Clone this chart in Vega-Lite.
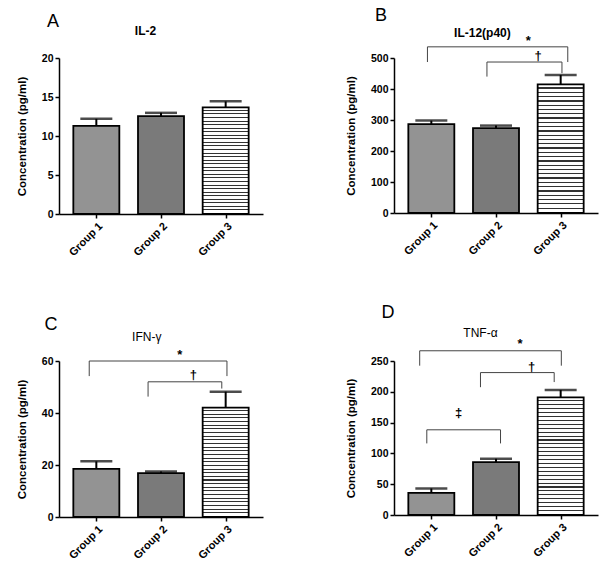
{
  "$schema": "https://vega.github.io/schema/vega-lite/v6.json",
  "background": "white",
  "padding": {"left": 16, "top": 7, "right": 4, "bottom": 4},
  "config": {
    "view": {"stroke": null},
    "axis": {"domainColor": "black", "domainWidth": 1.5, "tickColor": "black", "tickWidth": 1.5, "tickSize": 4, "labelPadding": 2, "labelFont": "Liberation Sans", "labelFontWeight": "bold", "labelFontSize": 10.5, "labelColor": "black", "labelOverlap": false, "labelSeparation": 0, "titleFont": "Liberation Sans", "titleFontWeight": "bold", "titleFontSize": 11.5, "titleColor": "black", "grid": false},
    "axisY": {"labelOverlap": false},
    "axisX": {"labelFontSize": 11, "labelAngle": -45},
    "text": {"font": "Liberation Sans", "color": "black", "fill": "black"},
    "bar": {"stroke": "black", "strokeWidth": 1.8, "width": 46, "orient": "vertical"}
  },
  "datasets": {
    "bars": [
      {"panel": "A", "group": "Group 1", "group_no": 1, "value": 11.3, "upper": 12.2},
      {"panel": "A", "group": "Group 2", "group_no": 2, "value": 12.55, "upper": 12.97},
      {"panel": "A", "group": "Group 3", "group_no": 3, "value": 13.68, "upper": 14.44},
      {"panel": "B", "group": "Group 1", "group_no": 1, "value": 287, "upper": 298},
      {"panel": "B", "group": "Group 2", "group_no": 2, "value": 274, "upper": 282},
      {"panel": "B", "group": "Group 3", "group_no": 3, "value": 415, "upper": 445},
      {"panel": "C", "group": "Group 1", "group_no": 1, "value": 18.5, "upper": 21.4},
      {"panel": "C", "group": "Group 2", "group_no": 2, "value": 16.9, "upper": 17.5},
      {"panel": "C", "group": "Group 3", "group_no": 3, "value": 42.1, "upper": 48.2},
      {"panel": "D", "group": "Group 1", "group_no": 1, "value": 35.9, "upper": 43.1},
      {"panel": "D", "group": "Group 2", "group_no": 2, "value": 85.7, "upper": 91.3},
      {"panel": "D", "group": "Group 3", "group_no": 3, "value": 190.9, "upper": 203}
    ],
    "brackets": [
      {"panel": "B", "id": "star", "ord": 1, "x": 0.94, "y": 487},
      {"panel": "B", "id": "star", "ord": 2, "x": 0.94, "y": 536},
      {"panel": "B", "id": "star", "ord": 3, "x": 3.11, "y": 536},
      {"panel": "B", "id": "star", "ord": 4, "x": 3.11, "y": 487},
      {"panel": "B", "id": "dag", "ord": 1, "x": 1.86, "y": 440},
      {"panel": "B", "id": "dag", "ord": 2, "x": 1.86, "y": 487},
      {"panel": "B", "id": "dag", "ord": 3, "x": 3.02, "y": 487},
      {"panel": "B", "id": "dag", "ord": 4, "x": 3.02, "y": 451},
      {"panel": "C", "id": "star", "ord": 1, "x": 0.89, "y": 54.2},
      {"panel": "C", "id": "star", "ord": 2, "x": 0.89, "y": 60},
      {"panel": "C", "id": "star", "ord": 3, "x": 3.02, "y": 60},
      {"panel": "C", "id": "star", "ord": 4, "x": 3.02, "y": 54.2},
      {"panel": "C", "id": "dag", "ord": 1, "x": 1.8, "y": 46.3},
      {"panel": "C", "id": "dag", "ord": 2, "x": 1.8, "y": 52},
      {"panel": "C", "id": "dag", "ord": 3, "x": 2.94, "y": 52},
      {"panel": "C", "id": "dag", "ord": 4, "x": 2.94, "y": 49.4},
      {"panel": "D", "id": "star", "ord": 1, "x": 0.82, "y": 242.4},
      {"panel": "D", "id": "star", "ord": 2, "x": 0.82, "y": 266.6},
      {"panel": "D", "id": "star", "ord": 3, "x": 3.01, "y": 266.6},
      {"panel": "D", "id": "star", "ord": 4, "x": 3.01, "y": 242.4},
      {"panel": "D", "id": "dag", "ord": 1, "x": 1.76, "y": 207.5},
      {"panel": "D", "id": "dag", "ord": 2, "x": 1.76, "y": 231.2},
      {"panel": "D", "id": "dag", "ord": 3, "x": 2.9, "y": 231.2},
      {"panel": "D", "id": "dag", "ord": 4, "x": 2.9, "y": 215.8},
      {"panel": "D", "id": "ddag", "ord": 1, "x": 0.93, "y": 116.2},
      {"panel": "D", "id": "ddag", "ord": 2, "x": 0.93, "y": 138.3},
      {"panel": "D", "id": "ddag", "ord": 3, "x": 2.07, "y": 138.3},
      {"panel": "D", "id": "ddag", "ord": 4, "x": 2.07, "y": 116.2}
    ],
    "labels": [
      {"panel": "A", "kind": "letter", "x": 0.33, "y": 24.6, "text": "A"},
      {"panel": "A", "kind": "title", "x": 1.76, "y": 23.4, "text": "IL-2"},
      {"panel": "B", "kind": "letter", "x": 0.22, "y": 634, "text": "B"},
      {"panel": "B", "kind": "title", "x": 1.79, "y": 580, "text": "IL-12(p40)"},
      {"panel": "B", "kind": "sig", "x": 2.5, "y": 556, "text": "*"},
      {"panel": "B", "kind": "sig", "x": 2.65, "y": 508, "text": "†"},
      {"panel": "C", "kind": "letter", "x": 0.3, "y": 73.7, "text": "C"},
      {"panel": "C", "kind": "title", "x": 1.78, "y": 69.1, "text": "IFN-γ"},
      {"panel": "C", "kind": "sig", "x": 2.29, "y": 62.3, "text": "*"},
      {"panel": "C", "kind": "sig", "x": 2.5, "y": 54.5, "text": "†"},
      {"panel": "D", "kind": "letter", "x": 0.33, "y": 327.9, "text": "D"},
      {"panel": "D", "kind": "title", "x": 1.76, "y": 296, "text": "TNF-α"},
      {"panel": "D", "kind": "sig", "x": 2.37, "y": 277.7, "text": "*"},
      {"panel": "D", "kind": "sig", "x": 2.55, "y": 240.7, "text": "†"},
      {"panel": "D", "kind": "sig", "x": 1.42, "y": 166, "text": "‡"}
    ]
  },
  "vconcat": [
    {
      "hconcat": [
        {
          "width": 204, "height": 156,
          "layer": [
            {"data": {"name": "bars"}, "transform": [{"filter": "datum.panel == 'A' && datum.group_no < 3"}],
             "mark": {"type": "bar"},
             "encoding": {
               "x": {"field": "group_no", "type": "quantitative", "scale": {"domain": [0.5, 3.5], "nice": false, "zero": false}, "axis": {"values": [1, 2, 3], "labelExpr": "'Group ' + datum.value", "title": null}},
               "y": {"field": "value", "type": "quantitative", "stack": null, "scale": {"domain": [0, 20], "nice": false}, "axis": {"values": [0, 5, 10, 15, 20], "labelOverlap": false, "title": "Concentration (pg/ml)", "titlePadding": 14}},
               "fill": {"field": "group", "type": "nominal", "scale": {"domain": ["Group 1", "Group 2"], "range": ["#939393", "#7a7a7a"]}, "legend": null}
             }},
            {"data": {"name": "bars"}, "transform": [{"filter": "datum.panel == 'A' && datum.group_no == 3"}],
             "mark": {"type": "bar", "fill": {"gradient": "linear", "x1": 0, "y1": 0, "x2": 0, "y2": 1, "stops": [
               {"offset": 0, "color": "white"}, {"offset": 0.024, "color": "white"}, {"offset": 0.024, "color": "#333"}, {"offset": 0.03333, "color": "#333"},
               {"offset": 0.03333, "color": "white"}, {"offset": 0.05733, "color": "white"}, {"offset": 0.05733, "color": "#333"}, {"offset": 0.06667, "color": "#333"},
               {"offset": 0.06667, "color": "white"}, {"offset": 0.09067, "color": "white"}, {"offset": 0.09067, "color": "#333"}, {"offset": 0.1, "color": "#333"},
               {"offset": 0.1, "color": "white"}, {"offset": 0.124, "color": "white"}, {"offset": 0.124, "color": "#333"}, {"offset": 0.13333, "color": "#333"},
               {"offset": 0.13333, "color": "white"}, {"offset": 0.15733, "color": "white"}, {"offset": 0.15733, "color": "#333"}, {"offset": 0.16667, "color": "#333"},
               {"offset": 0.16667, "color": "white"}, {"offset": 0.19067, "color": "white"}, {"offset": 0.19067, "color": "#333"}, {"offset": 0.2, "color": "#333"},
               {"offset": 0.2, "color": "white"}, {"offset": 0.224, "color": "white"}, {"offset": 0.224, "color": "#333"}, {"offset": 0.23333, "color": "#333"},
               {"offset": 0.23333, "color": "white"}, {"offset": 0.25733, "color": "white"}, {"offset": 0.25733, "color": "#333"}, {"offset": 0.26667, "color": "#333"},
               {"offset": 0.26667, "color": "white"}, {"offset": 0.29067, "color": "white"}, {"offset": 0.29067, "color": "#333"}, {"offset": 0.3, "color": "#333"},
               {"offset": 0.3, "color": "white"}, {"offset": 0.324, "color": "white"}, {"offset": 0.324, "color": "#333"}, {"offset": 0.33333, "color": "#333"},
               {"offset": 0.33333, "color": "white"}, {"offset": 0.35733, "color": "white"}, {"offset": 0.35733, "color": "#333"}, {"offset": 0.36667, "color": "#333"},
               {"offset": 0.36667, "color": "white"}, {"offset": 0.39067, "color": "white"}, {"offset": 0.39067, "color": "#333"}, {"offset": 0.4, "color": "#333"},
               {"offset": 0.4, "color": "white"}, {"offset": 0.424, "color": "white"}, {"offset": 0.424, "color": "#333"}, {"offset": 0.43333, "color": "#333"},
               {"offset": 0.43333, "color": "white"}, {"offset": 0.45733, "color": "white"}, {"offset": 0.45733, "color": "#333"}, {"offset": 0.46667, "color": "#333"},
               {"offset": 0.46667, "color": "white"}, {"offset": 0.49067, "color": "white"}, {"offset": 0.49067, "color": "#333"}, {"offset": 0.5, "color": "#333"},
               {"offset": 0.5, "color": "white"}, {"offset": 0.524, "color": "white"}, {"offset": 0.524, "color": "#333"}, {"offset": 0.53333, "color": "#333"},
               {"offset": 0.53333, "color": "white"}, {"offset": 0.55733, "color": "white"}, {"offset": 0.55733, "color": "#333"}, {"offset": 0.56667, "color": "#333"},
               {"offset": 0.56667, "color": "white"}, {"offset": 0.59067, "color": "white"}, {"offset": 0.59067, "color": "#333"}, {"offset": 0.6, "color": "#333"},
               {"offset": 0.6, "color": "white"}, {"offset": 0.624, "color": "white"}, {"offset": 0.624, "color": "#333"}, {"offset": 0.63333, "color": "#333"},
               {"offset": 0.63333, "color": "white"}, {"offset": 0.65733, "color": "white"}, {"offset": 0.65733, "color": "#333"}, {"offset": 0.66667, "color": "#333"},
               {"offset": 0.66667, "color": "white"}, {"offset": 0.69067, "color": "white"}, {"offset": 0.69067, "color": "#333"}, {"offset": 0.7, "color": "#333"},
               {"offset": 0.7, "color": "white"}, {"offset": 0.724, "color": "white"}, {"offset": 0.724, "color": "#333"}, {"offset": 0.73333, "color": "#333"},
               {"offset": 0.73333, "color": "white"}, {"offset": 0.75733, "color": "white"}, {"offset": 0.75733, "color": "#333"}, {"offset": 0.76667, "color": "#333"},
               {"offset": 0.76667, "color": "white"}, {"offset": 0.79067, "color": "white"}, {"offset": 0.79067, "color": "#333"}, {"offset": 0.8, "color": "#333"},
               {"offset": 0.8, "color": "white"}, {"offset": 0.824, "color": "white"}, {"offset": 0.824, "color": "#333"}, {"offset": 0.83333, "color": "#333"},
               {"offset": 0.83333, "color": "white"}, {"offset": 0.85733, "color": "white"}, {"offset": 0.85733, "color": "#333"}, {"offset": 0.86667, "color": "#333"},
               {"offset": 0.86667, "color": "white"}, {"offset": 0.89067, "color": "white"}, {"offset": 0.89067, "color": "#333"}, {"offset": 0.9, "color": "#333"},
               {"offset": 0.9, "color": "white"}, {"offset": 0.924, "color": "white"}, {"offset": 0.924, "color": "#333"}, {"offset": 0.93333, "color": "#333"},
               {"offset": 0.93333, "color": "white"}, {"offset": 0.95733, "color": "white"}, {"offset": 0.95733, "color": "#333"}, {"offset": 0.96667, "color": "#333"},
               {"offset": 0.96667, "color": "white"}, {"offset": 1, "color": "white"}]}},
             "encoding": {"x": {"field": "group_no", "type": "quantitative"}, "y": {"field": "value", "type": "quantitative", "stack": null, "axis": {"values": [0, 5, 10, 15, 20], "labelOverlap": false, "title": "Concentration (pg/ml)", "titlePadding": 14}}}},
            {"data": {"name": "bars"}, "transform": [{"filter": "datum.panel == 'A'"}],
             "mark": {"type": "rule", "color": "black", "strokeWidth": 2},
             "encoding": {"x": {"field": "group_no", "type": "quantitative"}, "y": {"field": "value", "type": "quantitative", "axis": {"values": [0, 5, 10, 15, 20], "labelOverlap": false, "title": "Concentration (pg/ml)", "titlePadding": 14}}, "y2": {"field": "upper"}}},
            {"data": {"name": "bars"}, "transform": [{"filter": "datum.panel == 'A'"}],
             "mark": {"type": "tick", "orient": "horizontal", "size": 32, "thickness": 2.5, "color": "black"},
             "encoding": {"x": {"field": "group_no", "type": "quantitative"}, "y": {"field": "upper", "type": "quantitative", "axis": {"values": [0, 5, 10, 15, 20], "labelOverlap": false, "title": "Concentration (pg/ml)", "titlePadding": 14}}}},
            {"data": {"name": "labels"}, "transform": [{"filter": "datum.panel == 'A' && datum.kind == 'letter'"}],
             "mark": {"type": "text", "fontSize": 18, "align": "center", "baseline": "middle"},
             "encoding": {"x": {"field": "x", "type": "quantitative"}, "y": {"field": "y", "type": "quantitative", "axis": {"values": [0, 5, 10, 15, 20], "labelOverlap": false, "title": "Concentration (pg/ml)", "titlePadding": 14}}, "text": {"field": "text"}}},
            {"data": {"name": "labels"}, "transform": [{"filter": "datum.panel == 'A' && datum.kind == 'title'"}],
             "mark": {"type": "text", "fontSize": 12, "fontWeight": "bold", "align": "center", "baseline": "middle"},
             "encoding": {"x": {"field": "x", "type": "quantitative"}, "y": {"field": "y", "type": "quantitative", "axis": {"values": [0, 5, 10, 15, 20], "labelOverlap": false, "title": "Concentration (pg/ml)", "titlePadding": 14}}, "text": {"field": "text"}}}
          ]
        },
        {
          "width": 204, "height": 155,
          "layer": [
            {"data": {"name": "bars"}, "transform": [{"filter": "datum.panel == 'B' && datum.group_no < 3"}],
             "mark": {"type": "bar"},
             "encoding": {
               "x": {"field": "group_no", "type": "quantitative", "scale": {"domain": [0.5, 3.5], "nice": false, "zero": false}, "axis": {"values": [1, 2, 3], "labelExpr": "'Group ' + datum.value", "title": null}},
               "y": {"field": "value", "type": "quantitative", "stack": null, "scale": {"domain": [0, 500], "nice": false}, "axis": {"values": [0, 100, 200, 300, 400, 500], "labelOverlap": false, "title": "Concentration (pg/ml)", "titlePadding": 14}},
               "fill": {"field": "group", "type": "nominal", "scale": {"domain": ["Group 1", "Group 2"], "range": ["#939393", "#7a7a7a"]}, "legend": null}
             }},
            {"data": {"name": "bars"}, "transform": [{"filter": "datum.panel == 'B' && datum.group_no == 3"}],
             "mark": {"type": "bar", "fill": {"gradient": "linear", "x1": 0, "y1": 0, "x2": 0, "y2": 1, "stops": [
               {"offset": 0, "color": "white"}, {"offset": 0.024, "color": "white"}, {"offset": 0.024, "color": "#333"}, {"offset": 0.03333, "color": "#333"},
               {"offset": 0.03333, "color": "white"}, {"offset": 0.05733, "color": "white"}, {"offset": 0.05733, "color": "#333"}, {"offset": 0.06667, "color": "#333"},
               {"offset": 0.06667, "color": "white"}, {"offset": 0.09067, "color": "white"}, {"offset": 0.09067, "color": "#333"}, {"offset": 0.1, "color": "#333"},
               {"offset": 0.1, "color": "white"}, {"offset": 0.124, "color": "white"}, {"offset": 0.124, "color": "#333"}, {"offset": 0.13333, "color": "#333"},
               {"offset": 0.13333, "color": "white"}, {"offset": 0.15733, "color": "white"}, {"offset": 0.15733, "color": "#333"}, {"offset": 0.16667, "color": "#333"},
               {"offset": 0.16667, "color": "white"}, {"offset": 0.19067, "color": "white"}, {"offset": 0.19067, "color": "#333"}, {"offset": 0.2, "color": "#333"},
               {"offset": 0.2, "color": "white"}, {"offset": 0.224, "color": "white"}, {"offset": 0.224, "color": "#333"}, {"offset": 0.23333, "color": "#333"},
               {"offset": 0.23333, "color": "white"}, {"offset": 0.25733, "color": "white"}, {"offset": 0.25733, "color": "#333"}, {"offset": 0.26667, "color": "#333"},
               {"offset": 0.26667, "color": "white"}, {"offset": 0.29067, "color": "white"}, {"offset": 0.29067, "color": "#333"}, {"offset": 0.3, "color": "#333"},
               {"offset": 0.3, "color": "white"}, {"offset": 0.324, "color": "white"}, {"offset": 0.324, "color": "#333"}, {"offset": 0.33333, "color": "#333"},
               {"offset": 0.33333, "color": "white"}, {"offset": 0.35733, "color": "white"}, {"offset": 0.35733, "color": "#333"}, {"offset": 0.36667, "color": "#333"},
               {"offset": 0.36667, "color": "white"}, {"offset": 0.39067, "color": "white"}, {"offset": 0.39067, "color": "#333"}, {"offset": 0.4, "color": "#333"},
               {"offset": 0.4, "color": "white"}, {"offset": 0.424, "color": "white"}, {"offset": 0.424, "color": "#333"}, {"offset": 0.43333, "color": "#333"},
               {"offset": 0.43333, "color": "white"}, {"offset": 0.45733, "color": "white"}, {"offset": 0.45733, "color": "#333"}, {"offset": 0.46667, "color": "#333"},
               {"offset": 0.46667, "color": "white"}, {"offset": 0.49067, "color": "white"}, {"offset": 0.49067, "color": "#333"}, {"offset": 0.5, "color": "#333"},
               {"offset": 0.5, "color": "white"}, {"offset": 0.524, "color": "white"}, {"offset": 0.524, "color": "#333"}, {"offset": 0.53333, "color": "#333"},
               {"offset": 0.53333, "color": "white"}, {"offset": 0.55733, "color": "white"}, {"offset": 0.55733, "color": "#333"}, {"offset": 0.56667, "color": "#333"},
               {"offset": 0.56667, "color": "white"}, {"offset": 0.59067, "color": "white"}, {"offset": 0.59067, "color": "#333"}, {"offset": 0.6, "color": "#333"},
               {"offset": 0.6, "color": "white"}, {"offset": 0.624, "color": "white"}, {"offset": 0.624, "color": "#333"}, {"offset": 0.63333, "color": "#333"},
               {"offset": 0.63333, "color": "white"}, {"offset": 0.65733, "color": "white"}, {"offset": 0.65733, "color": "#333"}, {"offset": 0.66667, "color": "#333"},
               {"offset": 0.66667, "color": "white"}, {"offset": 0.69067, "color": "white"}, {"offset": 0.69067, "color": "#333"}, {"offset": 0.7, "color": "#333"},
               {"offset": 0.7, "color": "white"}, {"offset": 0.724, "color": "white"}, {"offset": 0.724, "color": "#333"}, {"offset": 0.73333, "color": "#333"},
               {"offset": 0.73333, "color": "white"}, {"offset": 0.75733, "color": "white"}, {"offset": 0.75733, "color": "#333"}, {"offset": 0.76667, "color": "#333"},
               {"offset": 0.76667, "color": "white"}, {"offset": 0.79067, "color": "white"}, {"offset": 0.79067, "color": "#333"}, {"offset": 0.8, "color": "#333"},
               {"offset": 0.8, "color": "white"}, {"offset": 0.824, "color": "white"}, {"offset": 0.824, "color": "#333"}, {"offset": 0.83333, "color": "#333"},
               {"offset": 0.83333, "color": "white"}, {"offset": 0.85733, "color": "white"}, {"offset": 0.85733, "color": "#333"}, {"offset": 0.86667, "color": "#333"},
               {"offset": 0.86667, "color": "white"}, {"offset": 0.89067, "color": "white"}, {"offset": 0.89067, "color": "#333"}, {"offset": 0.9, "color": "#333"},
               {"offset": 0.9, "color": "white"}, {"offset": 0.924, "color": "white"}, {"offset": 0.924, "color": "#333"}, {"offset": 0.93333, "color": "#333"},
               {"offset": 0.93333, "color": "white"}, {"offset": 0.95733, "color": "white"}, {"offset": 0.95733, "color": "#333"}, {"offset": 0.96667, "color": "#333"},
               {"offset": 0.96667, "color": "white"}, {"offset": 1, "color": "white"}]}},
             "encoding": {"x": {"field": "group_no", "type": "quantitative"}, "y": {"field": "value", "type": "quantitative", "stack": null, "axis": {"values": [0, 100, 200, 300, 400, 500], "labelOverlap": false, "title": "Concentration (pg/ml)", "titlePadding": 14}}}},
            {"data": {"name": "bars"}, "transform": [{"filter": "datum.panel == 'B'"}],
             "mark": {"type": "rule", "color": "black", "strokeWidth": 2},
             "encoding": {"x": {"field": "group_no", "type": "quantitative"}, "y": {"field": "value", "type": "quantitative", "axis": {"values": [0, 100, 200, 300, 400, 500], "labelOverlap": false, "title": "Concentration (pg/ml)", "titlePadding": 14}}, "y2": {"field": "upper"}}},
            {"data": {"name": "bars"}, "transform": [{"filter": "datum.panel == 'B'"}],
             "mark": {"type": "tick", "orient": "horizontal", "size": 32, "thickness": 2.5, "color": "black"},
             "encoding": {"x": {"field": "group_no", "type": "quantitative"}, "y": {"field": "upper", "type": "quantitative", "axis": {"values": [0, 100, 200, 300, 400, 500], "labelOverlap": false, "title": "Concentration (pg/ml)", "titlePadding": 14}}}},
            {"data": {"name": "brackets"}, "transform": [{"filter": "datum.panel == 'B'"}],
             "mark": {"type": "line", "color": "#444444", "strokeWidth": 1},
             "encoding": {"x": {"field": "x", "type": "quantitative"}, "y": {"field": "y", "type": "quantitative", "axis": {"values": [0, 100, 200, 300, 400, 500], "labelOverlap": false, "title": "Concentration (pg/ml)", "titlePadding": 14}}, "detail": {"field": "id"}, "order": {"field": "ord"}}},
            {"data": {"name": "labels"}, "transform": [{"filter": "datum.panel == 'B' && datum.kind == 'letter'"}],
             "mark": {"type": "text", "fontSize": 18, "align": "center", "baseline": "middle"},
             "encoding": {"x": {"field": "x", "type": "quantitative"}, "y": {"field": "y", "type": "quantitative", "axis": {"values": [0, 100, 200, 300, 400, 500], "labelOverlap": false, "title": "Concentration (pg/ml)", "titlePadding": 14}}, "text": {"field": "text"}}},
            {"data": {"name": "labels"}, "transform": [{"filter": "datum.panel == 'B' && datum.kind == 'title'"}],
             "mark": {"type": "text", "fontSize": 12, "fontWeight": "bold", "align": "center", "baseline": "middle"},
             "encoding": {"x": {"field": "x", "type": "quantitative"}, "y": {"field": "y", "type": "quantitative", "axis": {"values": [0, 100, 200, 300, 400, 500], "labelOverlap": false, "title": "Concentration (pg/ml)", "titlePadding": 14}}, "text": {"field": "text"}}},
            {"data": {"name": "labels"}, "transform": [{"filter": "datum.panel == 'B' && datum.kind == 'sig'"}],
             "mark": {"type": "text", "fontSize": 13, "fontWeight": "bold", "align": "center", "baseline": "middle", "fill": "black"},
             "encoding": {"x": {"field": "x", "type": "quantitative"}, "y": {"field": "y", "type": "quantitative", "axis": {"values": [0, 100, 200, 300, 400, 500], "labelOverlap": false, "title": "Concentration (pg/ml)", "titlePadding": 14}}, "text": {"field": "text"}}}
          ]
        }
      ],
      "spacing": 82
    },
    {
      "hconcat": [
        {
          "width": 204, "height": 156,
          "layer": [
            {"data": {"name": "bars"}, "transform": [{"filter": "datum.panel == 'C' && datum.group_no < 3"}],
             "mark": {"type": "bar"},
             "encoding": {
               "x": {"field": "group_no", "type": "quantitative", "scale": {"domain": [0.5, 3.5], "nice": false, "zero": false}, "axis": {"values": [1, 2, 3], "labelExpr": "'Group ' + datum.value", "title": null}},
               "y": {"field": "value", "type": "quantitative", "stack": null, "scale": {"domain": [0, 60], "nice": false}, "axis": {"values": [0, 20, 40, 60], "labelOverlap": false, "title": "Concentration (pg/ml)", "titlePadding": 14}},
               "fill": {"field": "group", "type": "nominal", "scale": {"domain": ["Group 1", "Group 2"], "range": ["#939393", "#7a7a7a"]}, "legend": null}
             }},
            {"data": {"name": "bars"}, "transform": [{"filter": "datum.panel == 'C' && datum.group_no == 3"}],
             "mark": {"type": "bar", "fill": {"gradient": "linear", "x1": 0, "y1": 0, "x2": 0, "y2": 1, "stops": [
               {"offset": 0, "color": "white"}, {"offset": 0.024, "color": "white"}, {"offset": 0.024, "color": "#333"}, {"offset": 0.03333, "color": "#333"},
               {"offset": 0.03333, "color": "white"}, {"offset": 0.05733, "color": "white"}, {"offset": 0.05733, "color": "#333"}, {"offset": 0.06667, "color": "#333"},
               {"offset": 0.06667, "color": "white"}, {"offset": 0.09067, "color": "white"}, {"offset": 0.09067, "color": "#333"}, {"offset": 0.1, "color": "#333"},
               {"offset": 0.1, "color": "white"}, {"offset": 0.124, "color": "white"}, {"offset": 0.124, "color": "#333"}, {"offset": 0.13333, "color": "#333"},
               {"offset": 0.13333, "color": "white"}, {"offset": 0.15733, "color": "white"}, {"offset": 0.15733, "color": "#333"}, {"offset": 0.16667, "color": "#333"},
               {"offset": 0.16667, "color": "white"}, {"offset": 0.19067, "color": "white"}, {"offset": 0.19067, "color": "#333"}, {"offset": 0.2, "color": "#333"},
               {"offset": 0.2, "color": "white"}, {"offset": 0.224, "color": "white"}, {"offset": 0.224, "color": "#333"}, {"offset": 0.23333, "color": "#333"},
               {"offset": 0.23333, "color": "white"}, {"offset": 0.25733, "color": "white"}, {"offset": 0.25733, "color": "#333"}, {"offset": 0.26667, "color": "#333"},
               {"offset": 0.26667, "color": "white"}, {"offset": 0.29067, "color": "white"}, {"offset": 0.29067, "color": "#333"}, {"offset": 0.3, "color": "#333"},
               {"offset": 0.3, "color": "white"}, {"offset": 0.324, "color": "white"}, {"offset": 0.324, "color": "#333"}, {"offset": 0.33333, "color": "#333"},
               {"offset": 0.33333, "color": "white"}, {"offset": 0.35733, "color": "white"}, {"offset": 0.35733, "color": "#333"}, {"offset": 0.36667, "color": "#333"},
               {"offset": 0.36667, "color": "white"}, {"offset": 0.39067, "color": "white"}, {"offset": 0.39067, "color": "#333"}, {"offset": 0.4, "color": "#333"},
               {"offset": 0.4, "color": "white"}, {"offset": 0.424, "color": "white"}, {"offset": 0.424, "color": "#333"}, {"offset": 0.43333, "color": "#333"},
               {"offset": 0.43333, "color": "white"}, {"offset": 0.45733, "color": "white"}, {"offset": 0.45733, "color": "#333"}, {"offset": 0.46667, "color": "#333"},
               {"offset": 0.46667, "color": "white"}, {"offset": 0.49067, "color": "white"}, {"offset": 0.49067, "color": "#333"}, {"offset": 0.5, "color": "#333"},
               {"offset": 0.5, "color": "white"}, {"offset": 0.524, "color": "white"}, {"offset": 0.524, "color": "#333"}, {"offset": 0.53333, "color": "#333"},
               {"offset": 0.53333, "color": "white"}, {"offset": 0.55733, "color": "white"}, {"offset": 0.55733, "color": "#333"}, {"offset": 0.56667, "color": "#333"},
               {"offset": 0.56667, "color": "white"}, {"offset": 0.59067, "color": "white"}, {"offset": 0.59067, "color": "#333"}, {"offset": 0.6, "color": "#333"},
               {"offset": 0.6, "color": "white"}, {"offset": 0.624, "color": "white"}, {"offset": 0.624, "color": "#333"}, {"offset": 0.63333, "color": "#333"},
               {"offset": 0.63333, "color": "white"}, {"offset": 0.65733, "color": "white"}, {"offset": 0.65733, "color": "#333"}, {"offset": 0.66667, "color": "#333"},
               {"offset": 0.66667, "color": "white"}, {"offset": 0.69067, "color": "white"}, {"offset": 0.69067, "color": "#333"}, {"offset": 0.7, "color": "#333"},
               {"offset": 0.7, "color": "white"}, {"offset": 0.724, "color": "white"}, {"offset": 0.724, "color": "#333"}, {"offset": 0.73333, "color": "#333"},
               {"offset": 0.73333, "color": "white"}, {"offset": 0.75733, "color": "white"}, {"offset": 0.75733, "color": "#333"}, {"offset": 0.76667, "color": "#333"},
               {"offset": 0.76667, "color": "white"}, {"offset": 0.79067, "color": "white"}, {"offset": 0.79067, "color": "#333"}, {"offset": 0.8, "color": "#333"},
               {"offset": 0.8, "color": "white"}, {"offset": 0.824, "color": "white"}, {"offset": 0.824, "color": "#333"}, {"offset": 0.83333, "color": "#333"},
               {"offset": 0.83333, "color": "white"}, {"offset": 0.85733, "color": "white"}, {"offset": 0.85733, "color": "#333"}, {"offset": 0.86667, "color": "#333"},
               {"offset": 0.86667, "color": "white"}, {"offset": 0.89067, "color": "white"}, {"offset": 0.89067, "color": "#333"}, {"offset": 0.9, "color": "#333"},
               {"offset": 0.9, "color": "white"}, {"offset": 0.924, "color": "white"}, {"offset": 0.924, "color": "#333"}, {"offset": 0.93333, "color": "#333"},
               {"offset": 0.93333, "color": "white"}, {"offset": 0.95733, "color": "white"}, {"offset": 0.95733, "color": "#333"}, {"offset": 0.96667, "color": "#333"},
               {"offset": 0.96667, "color": "white"}, {"offset": 1, "color": "white"}]}},
             "encoding": {"x": {"field": "group_no", "type": "quantitative"}, "y": {"field": "value", "type": "quantitative", "stack": null, "axis": {"values": [0, 20, 40, 60], "labelOverlap": false, "title": "Concentration (pg/ml)", "titlePadding": 14}}}},
            {"data": {"name": "bars"}, "transform": [{"filter": "datum.panel == 'C'"}],
             "mark": {"type": "rule", "color": "black", "strokeWidth": 2},
             "encoding": {"x": {"field": "group_no", "type": "quantitative"}, "y": {"field": "value", "type": "quantitative", "axis": {"values": [0, 20, 40, 60], "labelOverlap": false, "title": "Concentration (pg/ml)", "titlePadding": 14}}, "y2": {"field": "upper"}}},
            {"data": {"name": "bars"}, "transform": [{"filter": "datum.panel == 'C'"}],
             "mark": {"type": "tick", "orient": "horizontal", "size": 32, "thickness": 2.5, "color": "black"},
             "encoding": {"x": {"field": "group_no", "type": "quantitative"}, "y": {"field": "upper", "type": "quantitative", "axis": {"values": [0, 20, 40, 60], "labelOverlap": false, "title": "Concentration (pg/ml)", "titlePadding": 14}}}},
            {"data": {"name": "brackets"}, "transform": [{"filter": "datum.panel == 'C'"}],
             "mark": {"type": "line", "color": "#444444", "strokeWidth": 1},
             "encoding": {"x": {"field": "x", "type": "quantitative"}, "y": {"field": "y", "type": "quantitative", "axis": {"values": [0, 20, 40, 60], "labelOverlap": false, "title": "Concentration (pg/ml)", "titlePadding": 14}}, "detail": {"field": "id"}, "order": {"field": "ord"}}},
            {"data": {"name": "labels"}, "transform": [{"filter": "datum.panel == 'C' && datum.kind == 'letter'"}],
             "mark": {"type": "text", "fontSize": 18, "align": "center", "baseline": "middle"},
             "encoding": {"x": {"field": "x", "type": "quantitative"}, "y": {"field": "y", "type": "quantitative", "axis": {"values": [0, 20, 40, 60], "labelOverlap": false, "title": "Concentration (pg/ml)", "titlePadding": 14}}, "text": {"field": "text"}}},
            {"data": {"name": "labels"}, "transform": [{"filter": "datum.panel == 'C' && datum.kind == 'title'"}],
             "mark": {"type": "text", "fontSize": 12, "align": "center", "baseline": "middle"},
             "encoding": {"x": {"field": "x", "type": "quantitative"}, "y": {"field": "y", "type": "quantitative", "axis": {"values": [0, 20, 40, 60], "labelOverlap": false, "title": "Concentration (pg/ml)", "titlePadding": 14}}, "text": {"field": "text"}}},
            {"data": {"name": "labels"}, "transform": [{"filter": "datum.panel == 'C' && datum.kind == 'sig'"}],
             "mark": {"type": "text", "fontSize": 13, "fontWeight": "bold", "align": "center", "baseline": "middle", "fill": "black"},
             "encoding": {"x": {"field": "x", "type": "quantitative"}, "y": {"field": "y", "type": "quantitative", "axis": {"values": [0, 20, 40, 60], "labelOverlap": false, "title": "Concentration (pg/ml)", "titlePadding": 14}}, "text": {"field": "text"}}}
          ]
        },
        {
          "width": 204, "height": 154,
          "layer": [
            {"data": {"name": "bars"}, "transform": [{"filter": "datum.panel == 'D' && datum.group_no < 3"}],
             "mark": {"type": "bar"},
             "encoding": {
               "x": {"field": "group_no", "type": "quantitative", "scale": {"domain": [0.5, 3.5], "nice": false, "zero": false}, "axis": {"values": [1, 2, 3], "labelExpr": "'Group ' + datum.value", "title": null}},
               "y": {"field": "value", "type": "quantitative", "stack": null, "scale": {"domain": [0, 250], "nice": false}, "axis": {"values": [0, 50, 100, 150, 200, 250], "labelOverlap": false, "title": "Concentration (pg/ml)", "titlePadding": 14}},
               "fill": {"field": "group", "type": "nominal", "scale": {"domain": ["Group 1", "Group 2"], "range": ["#939393", "#7a7a7a"]}, "legend": null}
             }},
            {"data": {"name": "bars"}, "transform": [{"filter": "datum.panel == 'D' && datum.group_no == 3"}],
             "mark": {"type": "bar", "fill": {"gradient": "linear", "x1": 0, "y1": 0, "x2": 0, "y2": 1, "stops": [
               {"offset": 0, "color": "white"}, {"offset": 0.024, "color": "white"}, {"offset": 0.024, "color": "#333"}, {"offset": 0.03333, "color": "#333"},
               {"offset": 0.03333, "color": "white"}, {"offset": 0.05733, "color": "white"}, {"offset": 0.05733, "color": "#333"}, {"offset": 0.06667, "color": "#333"},
               {"offset": 0.06667, "color": "white"}, {"offset": 0.09067, "color": "white"}, {"offset": 0.09067, "color": "#333"}, {"offset": 0.1, "color": "#333"},
               {"offset": 0.1, "color": "white"}, {"offset": 0.124, "color": "white"}, {"offset": 0.124, "color": "#333"}, {"offset": 0.13333, "color": "#333"},
               {"offset": 0.13333, "color": "white"}, {"offset": 0.15733, "color": "white"}, {"offset": 0.15733, "color": "#333"}, {"offset": 0.16667, "color": "#333"},
               {"offset": 0.16667, "color": "white"}, {"offset": 0.19067, "color": "white"}, {"offset": 0.19067, "color": "#333"}, {"offset": 0.2, "color": "#333"},
               {"offset": 0.2, "color": "white"}, {"offset": 0.224, "color": "white"}, {"offset": 0.224, "color": "#333"}, {"offset": 0.23333, "color": "#333"},
               {"offset": 0.23333, "color": "white"}, {"offset": 0.25733, "color": "white"}, {"offset": 0.25733, "color": "#333"}, {"offset": 0.26667, "color": "#333"},
               {"offset": 0.26667, "color": "white"}, {"offset": 0.29067, "color": "white"}, {"offset": 0.29067, "color": "#333"}, {"offset": 0.3, "color": "#333"},
               {"offset": 0.3, "color": "white"}, {"offset": 0.324, "color": "white"}, {"offset": 0.324, "color": "#333"}, {"offset": 0.33333, "color": "#333"},
               {"offset": 0.33333, "color": "white"}, {"offset": 0.35733, "color": "white"}, {"offset": 0.35733, "color": "#333"}, {"offset": 0.36667, "color": "#333"},
               {"offset": 0.36667, "color": "white"}, {"offset": 0.39067, "color": "white"}, {"offset": 0.39067, "color": "#333"}, {"offset": 0.4, "color": "#333"},
               {"offset": 0.4, "color": "white"}, {"offset": 0.424, "color": "white"}, {"offset": 0.424, "color": "#333"}, {"offset": 0.43333, "color": "#333"},
               {"offset": 0.43333, "color": "white"}, {"offset": 0.45733, "color": "white"}, {"offset": 0.45733, "color": "#333"}, {"offset": 0.46667, "color": "#333"},
               {"offset": 0.46667, "color": "white"}, {"offset": 0.49067, "color": "white"}, {"offset": 0.49067, "color": "#333"}, {"offset": 0.5, "color": "#333"},
               {"offset": 0.5, "color": "white"}, {"offset": 0.524, "color": "white"}, {"offset": 0.524, "color": "#333"}, {"offset": 0.53333, "color": "#333"},
               {"offset": 0.53333, "color": "white"}, {"offset": 0.55733, "color": "white"}, {"offset": 0.55733, "color": "#333"}, {"offset": 0.56667, "color": "#333"},
               {"offset": 0.56667, "color": "white"}, {"offset": 0.59067, "color": "white"}, {"offset": 0.59067, "color": "#333"}, {"offset": 0.6, "color": "#333"},
               {"offset": 0.6, "color": "white"}, {"offset": 0.624, "color": "white"}, {"offset": 0.624, "color": "#333"}, {"offset": 0.63333, "color": "#333"},
               {"offset": 0.63333, "color": "white"}, {"offset": 0.65733, "color": "white"}, {"offset": 0.65733, "color": "#333"}, {"offset": 0.66667, "color": "#333"},
               {"offset": 0.66667, "color": "white"}, {"offset": 0.69067, "color": "white"}, {"offset": 0.69067, "color": "#333"}, {"offset": 0.7, "color": "#333"},
               {"offset": 0.7, "color": "white"}, {"offset": 0.724, "color": "white"}, {"offset": 0.724, "color": "#333"}, {"offset": 0.73333, "color": "#333"},
               {"offset": 0.73333, "color": "white"}, {"offset": 0.75733, "color": "white"}, {"offset": 0.75733, "color": "#333"}, {"offset": 0.76667, "color": "#333"},
               {"offset": 0.76667, "color": "white"}, {"offset": 0.79067, "color": "white"}, {"offset": 0.79067, "color": "#333"}, {"offset": 0.8, "color": "#333"},
               {"offset": 0.8, "color": "white"}, {"offset": 0.824, "color": "white"}, {"offset": 0.824, "color": "#333"}, {"offset": 0.83333, "color": "#333"},
               {"offset": 0.83333, "color": "white"}, {"offset": 0.85733, "color": "white"}, {"offset": 0.85733, "color": "#333"}, {"offset": 0.86667, "color": "#333"},
               {"offset": 0.86667, "color": "white"}, {"offset": 0.89067, "color": "white"}, {"offset": 0.89067, "color": "#333"}, {"offset": 0.9, "color": "#333"},
               {"offset": 0.9, "color": "white"}, {"offset": 0.924, "color": "white"}, {"offset": 0.924, "color": "#333"}, {"offset": 0.93333, "color": "#333"},
               {"offset": 0.93333, "color": "white"}, {"offset": 0.95733, "color": "white"}, {"offset": 0.95733, "color": "#333"}, {"offset": 0.96667, "color": "#333"},
               {"offset": 0.96667, "color": "white"}, {"offset": 1, "color": "white"}]}},
             "encoding": {"x": {"field": "group_no", "type": "quantitative"}, "y": {"field": "value", "type": "quantitative", "stack": null, "axis": {"values": [0, 50, 100, 150, 200, 250], "labelOverlap": false, "title": "Concentration (pg/ml)", "titlePadding": 14}}}},
            {"data": {"name": "bars"}, "transform": [{"filter": "datum.panel == 'D'"}],
             "mark": {"type": "rule", "color": "black", "strokeWidth": 2},
             "encoding": {"x": {"field": "group_no", "type": "quantitative"}, "y": {"field": "value", "type": "quantitative", "axis": {"values": [0, 50, 100, 150, 200, 250], "labelOverlap": false, "title": "Concentration (pg/ml)", "titlePadding": 14}}, "y2": {"field": "upper"}}},
            {"data": {"name": "bars"}, "transform": [{"filter": "datum.panel == 'D'"}],
             "mark": {"type": "tick", "orient": "horizontal", "size": 32, "thickness": 2.5, "color": "black"},
             "encoding": {"x": {"field": "group_no", "type": "quantitative"}, "y": {"field": "upper", "type": "quantitative", "axis": {"values": [0, 50, 100, 150, 200, 250], "labelOverlap": false, "title": "Concentration (pg/ml)", "titlePadding": 14}}}},
            {"data": {"name": "brackets"}, "transform": [{"filter": "datum.panel == 'D'"}],
             "mark": {"type": "line", "color": "#444444", "strokeWidth": 1},
             "encoding": {"x": {"field": "x", "type": "quantitative"}, "y": {"field": "y", "type": "quantitative", "axis": {"values": [0, 50, 100, 150, 200, 250], "labelOverlap": false, "title": "Concentration (pg/ml)", "titlePadding": 14}}, "detail": {"field": "id"}, "order": {"field": "ord"}}},
            {"data": {"name": "labels"}, "transform": [{"filter": "datum.panel == 'D' && datum.kind == 'letter'"}],
             "mark": {"type": "text", "fontSize": 18, "align": "center", "baseline": "middle"},
             "encoding": {"x": {"field": "x", "type": "quantitative"}, "y": {"field": "y", "type": "quantitative", "axis": {"values": [0, 50, 100, 150, 200, 250], "labelOverlap": false, "title": "Concentration (pg/ml)", "titlePadding": 14}}, "text": {"field": "text"}}},
            {"data": {"name": "labels"}, "transform": [{"filter": "datum.panel == 'D' && datum.kind == 'title'"}],
             "mark": {"type": "text", "fontSize": 12, "align": "center", "baseline": "middle"},
             "encoding": {"x": {"field": "x", "type": "quantitative"}, "y": {"field": "y", "type": "quantitative", "axis": {"values": [0, 50, 100, 150, 200, 250], "labelOverlap": false, "title": "Concentration (pg/ml)", "titlePadding": 14}}, "text": {"field": "text"}}},
            {"data": {"name": "labels"}, "transform": [{"filter": "datum.panel == 'D' && datum.kind == 'sig'"}],
             "mark": {"type": "text", "fontSize": 13, "fontWeight": "bold", "align": "center", "baseline": "middle", "fill": "black"},
             "encoding": {"x": {"field": "x", "type": "quantitative"}, "y": {"field": "y", "type": "quantitative", "axis": {"values": [0, 50, 100, 150, 200, 250], "labelOverlap": false, "title": "Concentration (pg/ml)", "titlePadding": 14}}, "text": {"field": "text"}}}
          ]
        }
      ],
      "spacing": 82
    }
  ],
  "spacing": 46
}
